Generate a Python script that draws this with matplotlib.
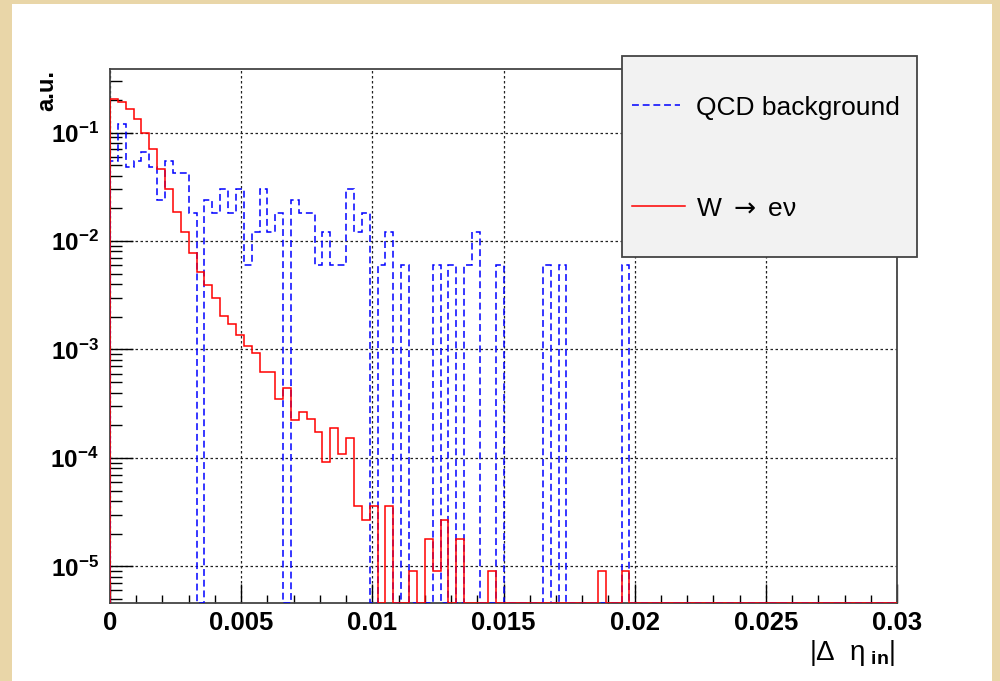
import numpy as np
import matplotlib
matplotlib.use('Agg')
import matplotlib.pyplot as plt
from matplotlib.patches import Rectangle
from matplotlib.lines import Line2D
from matplotlib.ticker import FixedLocator, NullFormatter, FixedFormatter

plt.rcParams['font.family'] = ['Liberation Sans', 'DejaVu Sans']
plt.rcParams['mathtext.fontset'] = 'custom'
plt.rcParams['mathtext.rm'] = 'Liberation Sans'
plt.rcParams['mathtext.it'] = 'Liberation Sans:italic'
plt.rcParams['mathtext.bf'] = 'Liberation Sans:bold'

# 100 bins of |delta eta_in| between 0 and 0.03
n_bins = 100
edges = np.linspace(0.0, 0.03, n_bins + 1)

# QCD background, raw counts per bin (bins after the list are empty)
qcd_counts = [9, 20, 8, 9, 11, 8, 4, 9, 7, 7,
              3, 0, 4, 3, 5, 3, 5, 1, 2, 5,
              2, 3, 0, 4, 3, 3, 1, 2, 1, 1,
              5, 2, 3, 0, 1, 2, 0, 1, 0, 0,
              0, 1, 0, 1, 0, 1, 2, 0, 0, 1,
              0, 0, 0, 0, 0, 1, 0, 1, 0, 0,
              0, 0, 0, 0, 0, 1]

# W -> e nu signal, already normalised to unit area
wenu_frac = [0.202, 0.192, 0.164, 0.1325, 0.0996, 0.0699, 0.0458, 0.0299, 0.0186, 0.0122,
             0.0078, 0.00521, 0.00393, 0.00296, 0.00204, 0.00171, 0.00135, 0.00108, 0.000923, 0.000624,
             0.000624, 0.000350, 0.000445, 0.000225, 0.000267, 0.000229, 0.000175, 9.2e-5, 0.000188, 0.000109,
             0.000152, 3.6e-5, 2.7e-5, 3.6e-5, 0, 3.6e-5, 0, 0, 9.1e-6, 0,
             1.8e-5, 9.1e-6, 2.7e-5, 0, 1.8e-5, 0, 0, 0, 9.1e-6, 0,
             0, 0, 0, 0, 0, 0, 0, 0, 0, 0,
             0, 0, 9.1e-6, 0, 0, 9.1e-6]

x_ticks = [0, 0.005, 0.01, 0.015, 0.02, 0.025, 0.03]
x_tick_labels = ['0', '0.005', '0.01', '0.015', '0.02', '0.025', '0.03']
y_ticks = [1e-5, 1e-4, 1e-3, 1e-2, 1e-1]
y_tick_labels = [r'$\mathbf{10}^{\mathbf{-5}}$', r'$\mathbf{10}^{\mathbf{-4}}$',
                 r'$\mathbf{10}^{\mathbf{-3}}$', r'$\mathbf{10}^{\mathbf{-2}}$',
                 r'$\mathbf{10}^{\mathbf{-1}}$']

y_min, y_max = 4.6e-6, 0.385

qcd = np.zeros(n_bins)
qcd[:len(qcd_counts)] = qcd_counts
qcd = qcd / qcd.sum()
wenu = np.zeros(n_bins)
wenu[:len(wenu_frac)] = wenu_frac

W, H = 1000, 681
fig = plt.figure(figsize=(W / 100, H / 100), dpi=100)
fig.patch.set_facecolor('#e9d6a8')


def fx(px):
    return px / W


def fy(py):
    return 1 - py / H


# white pad inside the textured frame
fig.add_artist(Rectangle((fx(12), 0), fx(992) - fx(12), fy(4), transform=fig.transFigure,
                         facecolor='white', edgecolor='none', zorder=0))

ax = fig.add_axes([fx(110), fy(603), fx(897) - fx(110), fy(69) - fy(603)])
ax.set_facecolor('white')
ax.set_yscale('log')
ax.set_xlim(0, 0.03)
ax.set_ylim(y_min, y_max)

# empty bins sit on the lower edge of the frame
ax.stairs(np.maximum(qcd, y_min), edges, baseline=y_min, color='#0000ff', lw=1.1,
          linestyle=(0, (4.5, 2.5)), zorder=3)
ax.stairs(np.maximum(wenu, y_min), edges, baseline=y_min, color='#ff0000', lw=1.1, zorder=4)

ax.xaxis.set_major_locator(FixedLocator(x_ticks))
ax.xaxis.set_major_formatter(FixedFormatter(x_tick_labels))
ax.xaxis.set_minor_locator(FixedLocator(np.arange(0, 0.0301, 0.001)))
ax.yaxis.set_major_locator(FixedLocator(y_ticks))
ax.yaxis.set_major_formatter(FixedFormatter(y_tick_labels))
minor_y = [m * 10.0 ** e for e in range(-6, 0) for m in range(2, 10)]
ax.yaxis.set_minor_locator(FixedLocator(minor_y))
ax.yaxis.set_minor_formatter(NullFormatter())

ax.grid(True, which='major', color='#222222', lw=0.9, linestyle=(0, (2, 2)))
ax.set_axisbelow(True)

ax.tick_params(axis='x', which='major', direction='in', length=13.5, width=1.0,
               pad=6, labelsize=18.5, top=False)
ax.tick_params(axis='x', which='minor', direction='in', length=5.5, width=1.0, top=False)
ax.tick_params(axis='y', which='major', direction='in', length=16.5, width=1.0,
               pad=8, labelsize=17.5, right=False)
ax.tick_params(axis='y', which='minor', direction='in', length=8.5, width=1.0, right=False)
for lab in ax.get_xticklabels():
    lab.set_fontweight('bold')
for sp in ax.spines.values():
    sp.set_linewidth(1.3)
    sp.set_color('#444444')

fig.text(fx(58), fy(70), 'a.u.', rotation=90, ha='right', va='top',
         fontsize=17, fontweight='bold')
fig.text(fx(895), fy(660), r'$\left|\Delta\ \ \mathrm{\eta}_{\ \mathbf{in}}\right|$', ha='right',
         va='baseline', fontsize=20)

# legend box
fig.add_artist(Rectangle((fx(622), fy(257)), fx(917) - fx(622), fy(56) - fy(257),
                         transform=fig.transFigure, facecolor='#f2f2f2',
                         edgecolor='#444444', lw=1.3, zorder=5))
fig.add_artist(Line2D([fx(632), fx(680)], [fy(105), fy(105)], transform=fig.transFigure,
                      color='#0000ff', lw=1.1, linestyle=(0, (4.5, 2.5)), zorder=6))
fig.add_artist(Line2D([fx(632), fx(685)], [fy(206), fy(206)], transform=fig.transFigure,
                      color='#ff0000', lw=1.1, zorder=6))
fig.text(fx(696), fy(115), 'QCD background', ha='left', va='baseline', fontsize=19, zorder=7)
fig.text(fx(696), fy(216.5), r'W $\rightarrow$ e' + '\u03bd', ha='left', va='baseline',
         fontsize=19, zorder=7, math_fontfamily='dejavusans')

fig.savefig('out.png', dpi=100, facecolor=fig.get_facecolor())
